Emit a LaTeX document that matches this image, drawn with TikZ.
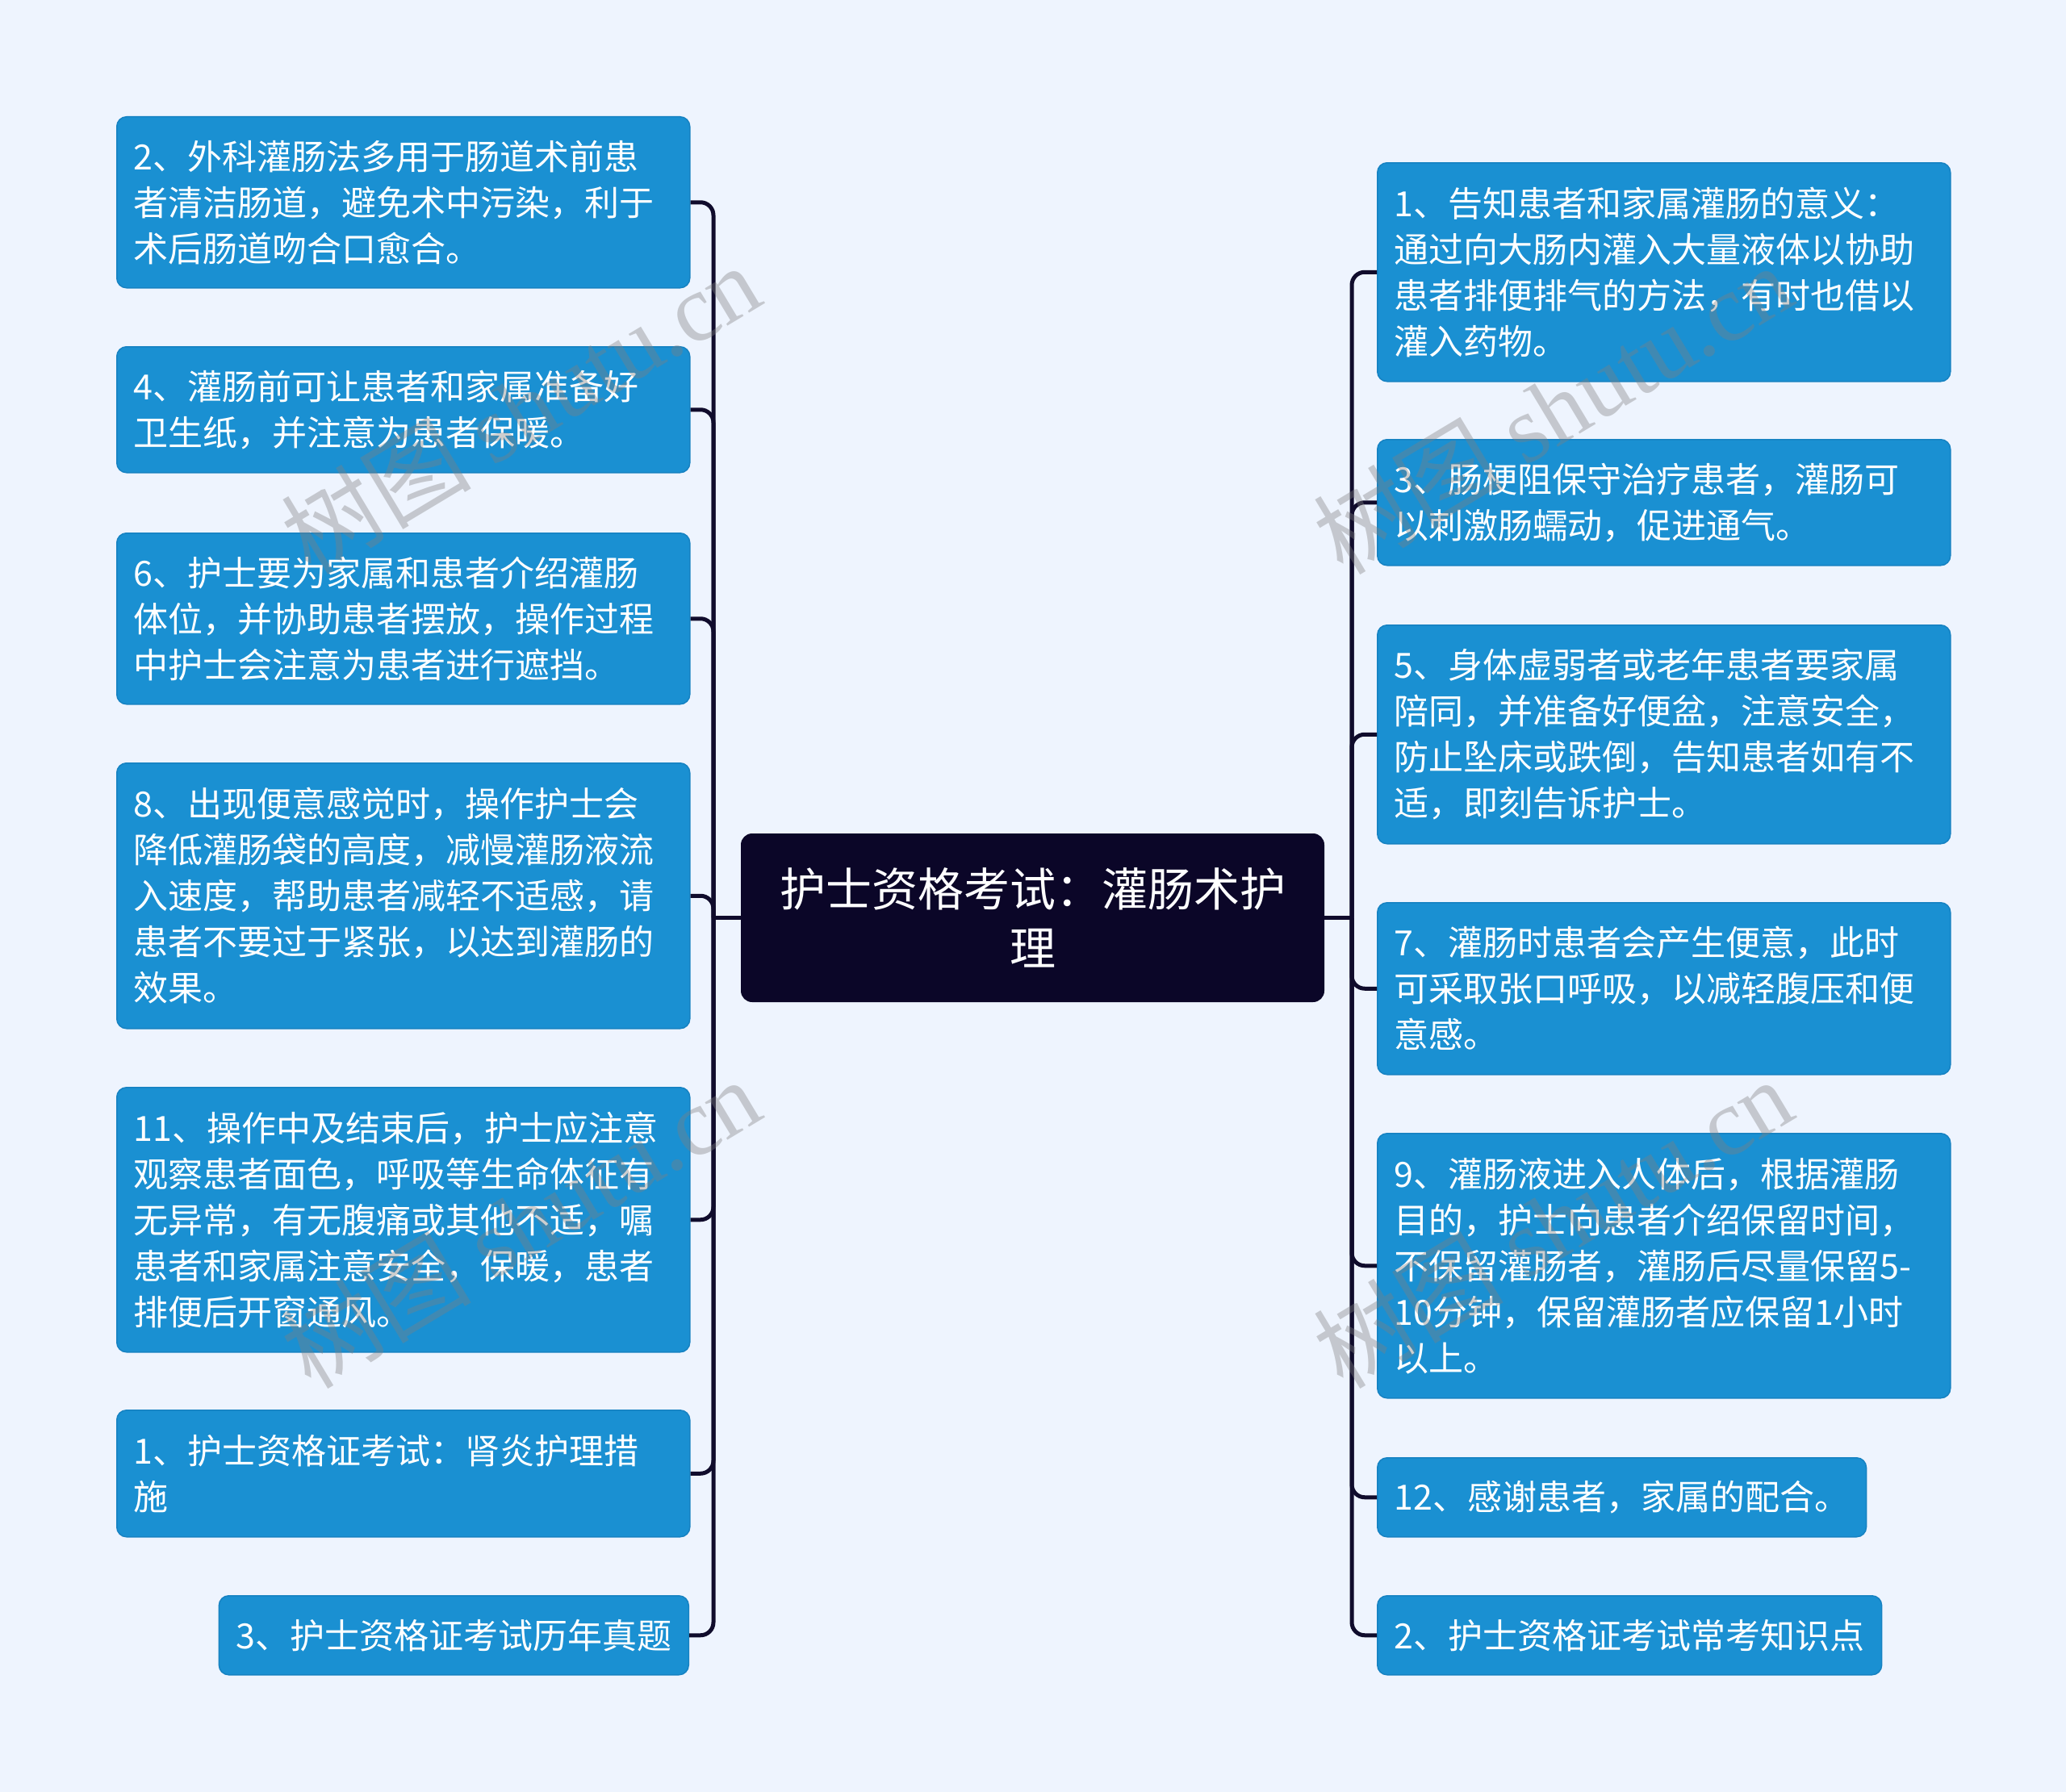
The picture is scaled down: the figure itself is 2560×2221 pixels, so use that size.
\documentclass[tikz,border=0pt]{standalone}
\usepackage{fontspec}
\newfontfamily\cjk{Noto Sans CJK SC}
\newfontfamily\wmlat{Liberation Serif}
\definecolor{bg}{HTML}{EEF4FE}
\definecolor{leaf}{HTML}{1A90D2}
\definecolor{leafedge}{HTML}{1682C2}
\definecolor{navy}{HTML}{0B0628}
\definecolor{wire}{HTML}{100C2C}
\tikzset{
  leafbox/.style={draw=leafedge, line width=1.5pt, fill=leaf, rounded corners=12pt,
    text=white, font=\cjk\fontsize{43}{57}\selectfont, align=left,
    inner xsep=21pt, inner ysep=0pt},
  wide/.style={text width=668pt, minimum width=710pt},
  rootbox/.style={fill=navy, rounded corners=14pt, text=white,
    font=\cjk\fontsize{57}{73}\selectfont, align=center, inner sep=0pt,
    minimum width=723pt, minimum height=209pt, text width=700pt},
  link/.style={draw=wire, line width=5pt, rounded corners=16pt},
  wm/.style={text=gray, opacity=0.38, rotate=31, font=\fontsize{118}{118}\selectfont}
}
\begin{document}
\begin{tikzpicture}[x=1pt,y=-1pt]
\fill[bg] (0,0) rectangle (2560,2221);
\useasboundingbox (0,0) rectangle (2560,2221);

\node[rootbox] (root) at (1279.5,1137.5) {护士资格考试：灌肠术护\\理};

% left leaves
\node[leafbox,wide,anchor=north west,minimum height=212pt] (L1) at (144,144)
  {2、外科灌肠法多用于肠道术前患\\者清洁肠道，避免术中污染，利于\\术后肠道吻合口愈合。};
\node[leafbox,wide,anchor=north west,minimum height=156pt] (L2) at (144,429)
  {4、灌肠前可让患者和家属准备好\\卫生纸，并注意为患者保暖。};
\node[leafbox,wide,anchor=north west,minimum height=212pt] (L3) at (144,660)
  {6、护士要为家属和患者介绍灌肠\\体位，并协助患者摆放，操作过程\\中护士会注意为患者进行遮挡。};
\node[leafbox,wide,anchor=north west,minimum height=329pt] (L4) at (144,945)
  {8、出现便意感觉时，操作护士会\\降低灌肠袋的高度，减慢灌肠液流\\入速度，帮助患者减轻不适感，请\\患者不要过于紧张，以达到灌肠的\\效果。};
\node[leafbox,wide,anchor=north west,minimum height=328pt] (L5) at (144,1347)
  {11、操作中及结束后，护士应注意\\观察患者面色，呼吸等生命体征有\\无异常，有无腹痛或其他不适，嘱\\患者和家属注意安全，保暖，患者\\排便后开窗通风。};
\node[leafbox,wide,anchor=north west,minimum height=157pt] (L6) at (144,1747)
  {1、护士资格证考试：肾炎护理措\\施};
\node[leafbox,anchor=north east,minimum height=98pt] (L7) at (854,1977)
  {3、护士资格证考试历年真题};

% right leaves
\node[leafbox,wide,anchor=north west,minimum height=271pt] (R1) at (1706,201)
  {1、告知患者和家属灌肠的意义：\\通过向大肠内灌入大量液体以协助\\患者排便排气的方法，有时也借以\\灌入药物。};
\node[leafbox,wide,anchor=north west,minimum height=156pt] (R2) at (1706,544)
  {3、肠梗阻保守治疗患者，灌肠可\\以刺激肠蠕动，促进通气。};
\node[leafbox,wide,anchor=north west,minimum height=271pt] (R3) at (1706,774)
  {5、身体虚弱者或老年患者要家属\\陪同，并准备好便盆，注意安全，\\防止坠床或跌倒，告知患者如有不\\适，即刻告诉护士。};
\node[leafbox,wide,anchor=north west,minimum height=213pt] (R4) at (1706,1118)
  {7、灌肠时患者会产生便意，此时\\可采取张口呼吸，以减轻腹压和便\\意感。};
\node[leafbox,wide,anchor=north west,minimum height=328pt] (R5) at (1706,1404)
  {9、灌肠液进入人体后，根据灌肠\\目的，护士向患者介绍保留时间，\\不保留灌肠者，灌肠后尽量保留5-\\10分钟，保留灌肠者应保留1小时\\以上。};
\node[leafbox,anchor=north west,minimum height=98pt] (R6) at (1706,1806)
  {12、感谢患者，家属的配合。};
\node[leafbox,anchor=north west,minimum height=98pt] (R7) at (1706,1977)
  {2、护士资格证考试常考知识点};

% hubs
\coordinate (hl) at (884,1137.5);
\coordinate (hr) at (1675,1137.5);

\draw[draw=wire,line width=5pt] (root.west) -- (hl);
\draw[draw=wire,line width=5pt] (root.east) -- (hr);
\foreach \n in {L1,L2,L3,L4,L5,L6,L7} \draw[link] (hl) |- (\n.east);
\foreach \n in {R1,R2,R3,R4,R5,R6,R7} \draw[link] (hr) |- (\n.west);

% watermarks
\node[wm] (w1) at (645,506) {\cjk 树图 \wmlat shutu.cn};
\node[wm] (w2) at (1924,506) {\cjk 树图 \wmlat shutu.cn};
\node[wm] (w3) at (645,1515) {\cjk 树图 \wmlat shutu.cn};
\node[wm] (w4) at (1924,1515) {\cjk 树图 \wmlat shutu.cn};
\end{tikzpicture}
\end{document}
